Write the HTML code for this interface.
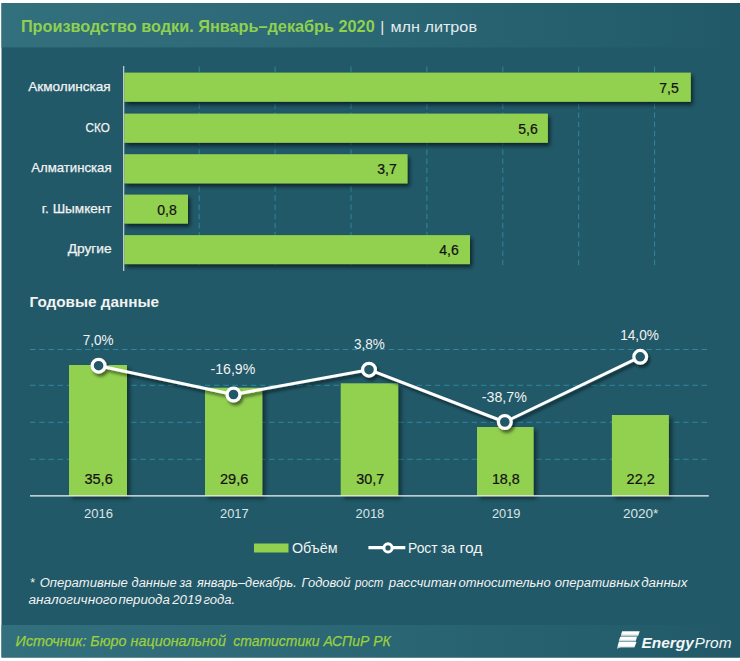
<!DOCTYPE html>
<html lang="ru">
<head>
<meta charset="utf-8">
<title>Производство водки</title>
<style>
html,body{margin:0;padding:0;background:#fff;}
body{width:740px;height:661px;overflow:hidden;font-family:"Liberation Sans",sans-serif;}
svg{display:block;position:absolute;left:0;top:0;}
text{font-family:"Liberation Sans",sans-serif;}
</style>
</head>
<body>
<svg width="740" height="661" viewBox="0 0 740 661">
  <defs>
    <linearGradient id="hg" x1="0" y1="0" x2="1" y2="0">
      <stop offset="0" stop-color="#33707e"/>
      <stop offset="0.55" stop-color="#2a6574"/>
      <stop offset="1" stop-color="#215968"/>
    </linearGradient>
    <filter id="sh" x="-5%" y="-20%" width="112%" height="150%">
      <feGaussianBlur in="SourceAlpha" stdDeviation="2"/>
      <feOffset dx="2" dy="3" result="o"/>
      <feComponentTransfer><feFuncA type="linear" slope="0.62"/></feComponentTransfer>
      <feMerge><feMergeNode/><feMergeNode in="SourceGraphic"/></feMerge>
    </filter>
    <filter id="sh2" x="-10%" y="-20%" width="125%" height="140%">
      <feGaussianBlur in="SourceAlpha" stdDeviation="2.2"/>
      <feOffset dx="2.6" dy="2.6" result="o"/>
      <feComponentTransfer><feFuncA type="linear" slope="0.48"/></feComponentTransfer>
      <feMerge><feMergeNode/><feMergeNode in="SourceGraphic"/></feMerge>
    </filter>
    <filter id="shl" x="-5%" y="-30%" width="110%" height="160%">
      <feGaussianBlur in="SourceAlpha" stdDeviation="1.5"/>
      <feOffset dx="1.5" dy="2.5" result="o"/>
      <feComponentTransfer><feFuncA type="linear" slope="0.5"/></feComponentTransfer>
      <feMerge><feMergeNode/><feMergeNode in="SourceGraphic"/></feMerge>
    </filter>
    <linearGradient id="lg" gradientUnits="objectBoundingBox" x1="0" y1="0" x2="0" y2="1">
      <stop offset="0" stop-color="#ffffff"/>
      <stop offset="0.5" stop-color="#ffffff"/>
      <stop offset="1" stop-color="#9db7be"/>
    </linearGradient>
  </defs>

  <!-- background -->
  <rect x="0" y="0" width="740" height="661" fill="#ffffff"/>
  <rect x="1.5" y="3" width="738.5" height="654.5" fill="#215968"/>
  <!-- header -->
  <rect x="1.5" y="3" width="738.5" height="44.4" fill="url(#hg)"/>
  <!-- footer -->
  <rect x="1.5" y="625" width="738.5" height="32.5" fill="url(#hg)"/>

  <!-- title -->
  <text id="t1" x="20.9" y="31.9" font-size="17" font-weight="bold" fill="#8fd14f" textLength="353.8" lengthAdjust="spacingAndGlyphs">Производство водки. Январь–декабрь 2020</text>
  <text id="t2a" x="380.2" y="31.9" font-size="15.5" fill="#e4ecee">|</text>
  <text id="t2" x="390.4" y="31.9" font-size="15.5" fill="#e4ecee" textLength="86.6" lengthAdjust="spacingAndGlyphs">млн литров</text>

  <!-- ===== top chart ===== -->
  <g stroke="#2e879f" stroke-width="1" stroke-dasharray="5.5 3.7" fill="none">
    <path d="M199.2 66.5V267M275.1 66.5V267M351.0 66.5V267M426.9 66.5V267M502.8 66.5V267M578.7 66.5V267M654.6 66.5V267"/>
  </g>
  <g fill="#92d050" filter="url(#sh)">
    <rect x="124.3" y="72.6" width="566.5" height="29.2"/>
    <rect x="124.3" y="113.6" width="423.6" height="29.2"/>
    <rect x="124.3" y="154.2" width="283.2" height="29.2"/>
    <rect x="124.3" y="194.6" width="63.7" height="29.0"/>
    <rect x="124.3" y="235.1" width="345.7" height="29.0"/>
  </g>
  <path d="M123.7 66V271" stroke="#dcdcdc" stroke-width="1.1" fill="none"/>

  <g font-size="13" fill="#f2f2f2" stroke="#f2f2f2" stroke-width="0.25">
    <text id="c1" x="28.2" y="91.2" textLength="82.5" lengthAdjust="spacingAndGlyphs">Акмолинская</text>
    <text id="c2" x="85.6" y="132" textLength="24.2" lengthAdjust="spacingAndGlyphs">СКО</text>
    <text id="c3" x="31.2" y="172" textLength="80.4" lengthAdjust="spacingAndGlyphs">Алматинская</text>
    <text id="c4" x="41.8" y="212.7" textLength="69.8" lengthAdjust="spacingAndGlyphs">г. Шымкент</text>
    <text id="c5" x="67.7" y="253" textLength="43.9" lengthAdjust="spacingAndGlyphs">Другие</text>
  </g>
  <g font-size="14" fill="#111111" stroke="#111111" stroke-width="0.2" text-anchor="middle">
    <text id="v1" x="669" y="92.5">7,5</text>
    <text id="v2" x="528" y="133.5">5,6</text>
    <text id="v3" x="387" y="174">3,7</text>
    <text id="v4" x="167" y="214.5">0,8</text>
    <text id="v5" x="449" y="255">4,6</text>
  </g>

  <!-- ===== bottom chart ===== -->
  <text id="h2" x="29.5" y="307" font-size="14.5" font-weight="bold" fill="#f2f2f2" textLength="129.5" lengthAdjust="spacingAndGlyphs">Годовые данные</text>

  <g stroke="#2e879f" stroke-width="1" stroke-dasharray="5.5 3.7" fill="none">
    <path d="M30 349.5H709M30 385.3H709M30 422.3H709M30 459.3H709"/>
  </g>
  <g fill="#92d050" filter="url(#sh2)">
    <rect x="69" y="365" width="58" height="130.8"/>
    <rect x="205" y="387.7" width="57.3" height="108.1"/>
    <rect x="340.7" y="383.3" width="57.5" height="112.5"/>
    <rect x="477" y="427" width="56.6" height="68.8"/>
    <rect x="611.9" y="415" width="57" height="80.8"/>
  </g>
  <path d="M30 495.8H708.8" stroke="#f4f4f4" stroke-width="1.2" fill="none"/>

  <g filter="url(#shl)">
    <polyline points="98.6,365.7 233.5,394.5 369,369.7 504.8,422 640.2,356.8" fill="none" stroke="#ffffff" stroke-width="3" stroke-linejoin="round"/>
    <g fill="#215968" stroke="#ffffff" stroke-width="3.2">
      <circle cx="98.6" cy="365.7" r="6.4"/>
      <circle cx="233.5" cy="394.5" r="6.4"/>
      <circle cx="369" cy="369.7" r="6.4"/>
      <circle cx="504.8" cy="422" r="6.4"/>
      <circle cx="640.2" cy="356.8" r="6.4"/>
    </g>
  </g>

  <g font-size="14.5" fill="#f2f2f2">
    <text id="p1" x="82.8" y="344.6" textLength="30.8" lengthAdjust="spacingAndGlyphs">7,0%</text>
    <text id="p2" x="210.5" y="373.8" textLength="44.8" lengthAdjust="spacingAndGlyphs">-16,9%</text>
    <text id="p3" x="354.1" y="348.6" textLength="30.8" lengthAdjust="spacingAndGlyphs">3,8%</text>
    <text id="p4" x="481.8" y="401.5" textLength="45" lengthAdjust="spacingAndGlyphs">-38,7%</text>
    <text id="p5" x="620.2" y="340.4" textLength="38.7" lengthAdjust="spacingAndGlyphs">14,0%</text>
  </g>
  <g font-size="14.5" fill="#111111" stroke="#111111" stroke-width="0.2">
    <text id="b1" x="84.4" y="483.9" textLength="28.4" lengthAdjust="spacingAndGlyphs">35,6</text>
    <text id="b2" x="220" y="483.9" textLength="28.4" lengthAdjust="spacingAndGlyphs">29,6</text>
    <text id="b3" x="356.2" y="483.9" textLength="28" lengthAdjust="spacingAndGlyphs">30,7</text>
    <text id="b4" x="491.9" y="483.9" textLength="27.8" lengthAdjust="spacingAndGlyphs">18,8</text>
    <text id="b5" x="626.6" y="483.9" textLength="28.4" lengthAdjust="spacingAndGlyphs">22,2</text>
  </g>
  <g font-size="12.5" fill="#dbe4e7">
    <text id="y1" x="83.9" y="518.4" textLength="29" lengthAdjust="spacingAndGlyphs">2016</text>
    <text id="y2" x="220" y="518.4" textLength="28.6" lengthAdjust="spacingAndGlyphs">2017</text>
    <text id="y3" x="355.5" y="518.4" textLength="28.8" lengthAdjust="spacingAndGlyphs">2018</text>
    <text id="y4" x="491.9" y="518.4" textLength="28.6" lengthAdjust="spacingAndGlyphs">2019</text>
    <text id="y5" x="622.9" y="518.4" textLength="35.4" lengthAdjust="spacingAndGlyphs">2020*</text>
  </g>

  <!-- legend -->
  <rect x="254" y="543.5" width="34.5" height="9" fill="#92d050"/>
  <text id="l1" x="292" y="552.8" font-size="14" fill="#f2f2f2" textLength="45.5" lengthAdjust="spacingAndGlyphs">Объём</text>
  <path d="M368.4 547.7H405.3" stroke="#ffffff" stroke-width="3.3" fill="none"/>
  <circle cx="388" cy="547.9" r="4.1" fill="#215968" stroke="#ffffff" stroke-width="3"/>
  <g font-size="14" fill="#f2f2f2">
    <text id="l2" x="408" y="552.7" textLength="29.6" lengthAdjust="spacingAndGlyphs">Рост</text>
    <text x="440.8" y="552.7" textLength="14.4" lengthAdjust="spacingAndGlyphs">за</text>
    <text x="459.6" y="552.7" textLength="22.8" lengthAdjust="spacingAndGlyphs">год</text>
  </g>

  <!-- footnote -->
  <g font-size="12" font-style="italic" fill="#f2f2f2">
    <text x="29.7" y="587" textLength="4.8" lengthAdjust="spacingAndGlyphs">*</text>
    <text x="39.7" y="587" textLength="88.2" lengthAdjust="spacingAndGlyphs">Оперативные</text>
    <text x="131.6" y="587" textLength="45.0" lengthAdjust="spacingAndGlyphs">данные</text>
    <text x="179.5" y="587" textLength="12.5" lengthAdjust="spacingAndGlyphs">за</text>
    <text x="197.0" y="587" textLength="99.8" lengthAdjust="spacingAndGlyphs">январь–декабрь.</text>
    <text x="301.6" y="587" textLength="49.0" lengthAdjust="spacingAndGlyphs">Годовой</text>
    <text x="355.1" y="587" textLength="28.2" lengthAdjust="spacingAndGlyphs">рост</text>
    <text x="388.8" y="587" textLength="67.5" lengthAdjust="spacingAndGlyphs">рассчитан</text>
    <text x="458.6" y="587" textLength="92.1" lengthAdjust="spacingAndGlyphs">относительно</text>
    <text x="554.7" y="587" textLength="85.0" lengthAdjust="spacingAndGlyphs">оперативных</text>
    <text x="641.2" y="587" textLength="46.2" lengthAdjust="spacingAndGlyphs">данных</text>
    <text x="28.4" y="603.9" textLength="88.6" lengthAdjust="spacingAndGlyphs">аналогичного</text>
    <text x="118.4" y="603.9" textLength="51.4" lengthAdjust="spacingAndGlyphs">периода</text>
    <text x="172.2" y="603.9" textLength="29.4" lengthAdjust="spacingAndGlyphs">2019</text>
    <text x="203.4" y="603.9" textLength="31.8" lengthAdjust="spacingAndGlyphs">года.</text>
  </g>

  <!-- source -->
  <g font-size="14" font-style="italic" fill="#9ad03c" stroke="#9ad03c" stroke-width="0.25">
    <text id="s1" x="15.6" y="646.1" textLength="210.4" lengthAdjust="spacingAndGlyphs">Источник: Бюро национальной</text>
    <text id="s2" x="233.2" y="646.1" textLength="157.6" lengthAdjust="spacingAndGlyphs">статистики АСПиР РК</text>
  </g>

  <!-- logo -->
  <g id="logo" fill="#f4f7f8">
    <g fill="url(#lg)">
      <path d="M622.2 631.3H639.7L638 636.4H620.8Q621.3 633.4 622.2 631.3Z"/>
      <path d="M620.3 636.7H636.9L635.7 641.8H618.6Q619.2 639 620.3 636.7Z"/>
      <path d="M618.8 642.1H636.5L634.4 647.5H621Q618.6 647.7 617 649Q617.8 645 618.8 642.1Z"/>
    </g>
    <text x="641.4" y="647.5" font-size="14.5" font-weight="bold" font-style="italic" textLength="52.4" lengthAdjust="spacingAndGlyphs">Energy</text>
    <text x="694.6" y="647.5" font-size="14.5" font-style="italic" textLength="37" lengthAdjust="spacingAndGlyphs">Prom</text>
  </g>
</svg>
</body>
</html>
